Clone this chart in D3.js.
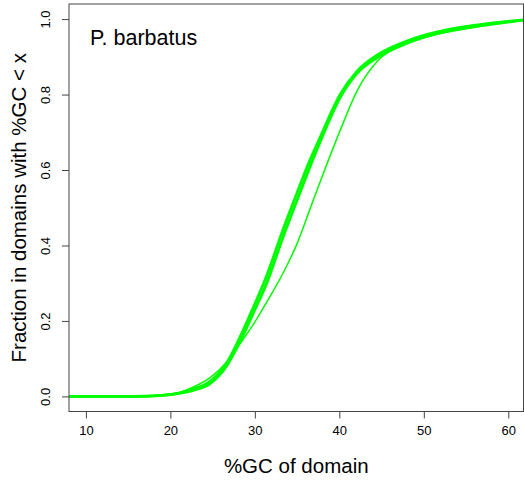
<!DOCTYPE html>
<html>
<head>
<meta charset="utf-8">
<script src="https://cdn.jsdelivr.net/npm/d3@7"></script>
<style>
  body { margin: 0; background: #fff; }
  text { font-family: "Liberation Sans", Arial, sans-serif; fill: #000; }
</style>
</head>
<body>
<div id="chart"></div>
<script>
// %GC grid the curves were read on
const gc = [8, 16, 19, 21, 22.7, 24.7, 26.7, 28.2, 29.8, 31.4, 33.3, 35, 36.5, 37.7, 40.1, 42.1, 44.5, 48, 51.6, 55.5, 61.8];

// cumulative fraction per domain set
const setA = [0, 0, 0.003, 0.008, 0.016, 0.034, 0.082, 0.143, 0.22, 0.30, 0.42, 0.52, 0.607, 0.673, 0.792, 0.856, 0.898, 0.936, 0.962, 0.978, 0.997];
const setB = [0, 0, 0.003, 0.009, 0.02, 0.04, 0.09, 0.155, 0.235, 0.32, 0.44, 0.54, 0.625, 0.685, 0.80, 0.862, 0.905, 0.942, 0.966, 0.982, 0.998];
const setC = [0, 0, 0.004, 0.01, 0.025, 0.05, 0.092, 0.138, 0.19, 0.25, 0.325, 0.405, 0.495, 0.567, 0.705, 0.81, 0.888, 0.935, 0.96, 0.977, 0.997];

const xTicks = [10, 20, 30, 40, 50, 60];
const yTicks = [0, 0.2, 0.4, 0.6, 0.8, 1.0];

const width = 524, height = 485;
const plot = { left: 69, right: 523.5, top: 4, bottom: 411.5 };

let svg = d3.select("#chart").append("svg")
  .attr("width", width)
  .attr("height", height);

let xScale = d3.scaleLinear()
  .domain([8, 61.8])
  .range([plot.left, plot.right]);

let yScale = d3.scaleLinear()
  .domain([-0.04, 1.04])
  .range([plot.bottom, plot.top]);

svg.append("clipPath").attr("id", "plot-clip")
  .append("rect")
  .attr("x", plot.left)
  .attr("y", plot.top)
  .attr("width", plot.right - plot.left)
  .attr("height", plot.bottom - plot.top);

let line = d3.line()
  .x(d => xScale(d[0]))
  .y(d => yScale(d[1]))
  .curve(d3.curveMonotoneX);

let series = [
  { values: setC, w: 1.5 },
  { values: setA, w: 2.8 },
  { values: setB, w: 2.8 }
];

svg.append("g")
  .attr("clip-path", "url(#plot-clip)")
  .selectAll("path")
  .data(series)
  .enter()
  .append("path")
  .attr("d", s => line(gc.map((g, i) => [g, s.values[i]])))
  .attr("fill", "none")
  .attr("stroke", "#00ff00")
  .attr("stroke-width", s => s.w);

// box round the plot
svg.append("rect")
  .attr("x", plot.left)
  .attr("y", plot.top)
  .attr("width", plot.right - plot.left)
  .attr("height", plot.bottom - plot.top)
  .attr("fill", "none")
  .attr("stroke", "#444")
  .attr("stroke-width", 1);

// x axis
let xAxis = svg.append("g")
  .attr("transform", `translate(0,${plot.bottom})`)
  .call(d3.axisBottom(xScale).tickValues(xTicks).tickSize(7).tickPadding(7).tickFormat(d3.format("d")));
xAxis.select(".domain").remove();
xAxis.selectAll("line").attr("stroke", "#444");
xAxis.selectAll("text")
  .style("font-size", "13px")
  .style("font-family", '"Liberation Sans", Arial, sans-serif');

// y axis, labels turned like R's las=0
let yAxis = svg.append("g")
  .attr("transform", `translate(${plot.left},0)`)
  .call(d3.axisLeft(yScale).tickValues(yTicks).tickSize(7).tickFormat(d3.format(".1f")));
yAxis.select(".domain").remove();
yAxis.selectAll("line").attr("stroke", "#444");
yAxis.selectAll("text")
  .attr("x", null)
  .attr("dy", null)
  .attr("transform", "translate(-19,0) rotate(-90)")
  .attr("text-anchor", "middle")
  .style("font-size", "13px")
  .style("font-family", '"Liberation Sans", Arial, sans-serif');

// titles
svg.append("text")
  .attr("x", (plot.left + plot.right) / 2)
  .attr("y", 473)
  .attr("text-anchor", "middle")
  .style("font-size", "20.5px")
  .text("%GC of domain");

svg.append("text")
  .attr("transform", `translate(26,${(plot.top + plot.bottom) / 2}) rotate(-90)`)
  .attr("text-anchor", "middle")
  .style("font-size", "20.5px")
  .text("Fraction in domains with %GC < x");

svg.append("text")
  .attr("x", 90)
  .attr("y", 45)
  .style("font-size", "21.5px")
  .text("P. barbatus");
</script>
</body>
</html>
